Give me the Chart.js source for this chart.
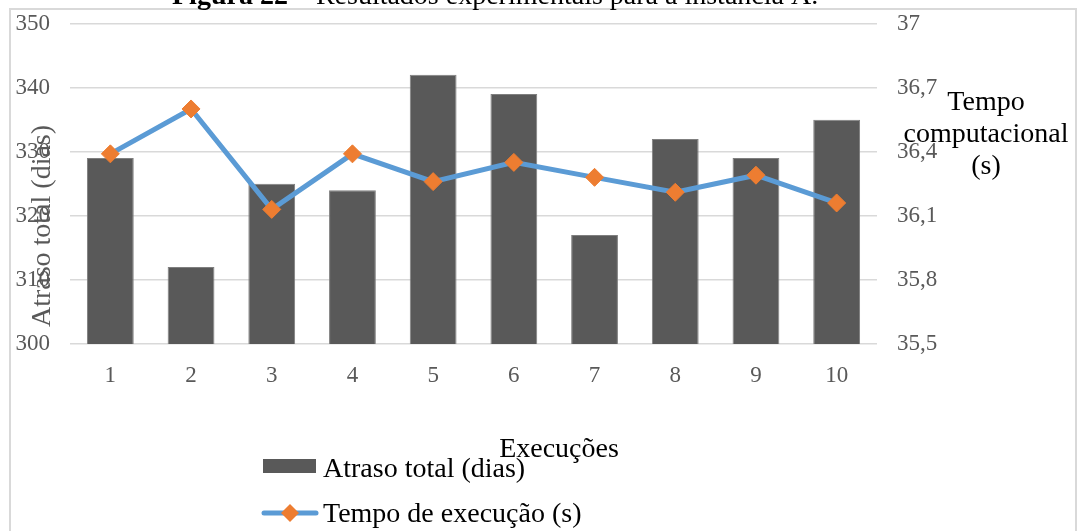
<!DOCTYPE html>
<html>
<head>
<meta charset="utf-8">
<title>Resultados experimentais</title>
<script src="https://cdn.jsdelivr.net/npm/chart.js@4/dist/chart.umd.min.js"></script>
<style>
    html, body { margin: 0; padding: 0; background: #fff; }
    #box { width: 1078px; height: 531px; position: relative; }
</style>
</head>
<body>
<div id="box"><canvas id="graphCanvas" width="1078" height="531"></canvas></div>
<script>
var execucoes = ['1', '2', '3', '4', '5', '6', '7', '8', '9', '10'];
var atrasoTotal = [329, 312, 325, 324, 342, 339, 317, 332, 329, 335];
var tempoExecucao = [36.39, 36.60, 36.13, 36.39, 36.26, 36.35, 36.28, 36.21, 36.29, 36.16];

var serif = '"Liberation Serif", "Times New Roman", serif';
var tickGray = '#595959';

// border, title, axis titles and the legend are drawn by hand
var decor = {
    id: 'decor',
    beforeDraw: function (chart) {
        var ctx = chart.ctx;
        ctx.save();
        ctx.strokeStyle = '#d9d9d9';
        ctx.lineWidth = 2;
        ctx.strokeRect(10, 9, 1066, 540);
        ctx.restore();
    },
    afterDraw: function (chart) {
        var ctx = chart.ctx;
        var bar = chart.data.datasets[0];
        var line = chart.data.datasets[1];
        ctx.save();

        // figure title (partly cut at the top)
        var bold = 'Figura 22';
        var rest = ' \u2013 Resultados experimentais para a inst\u00e2ncia A.';
        ctx.fillStyle = '#000';
        ctx.textBaseline = 'alphabetic';
        ctx.textAlign = 'left';
        ctx.font = 'bold 28px ' + serif;
        ctx.fillText(bold, 172, 4);
        var w = ctx.measureText(bold).width;
        ctx.font = '28px ' + serif;
        ctx.fillText(rest, 172 + w, 4);

        // left axis title
        ctx.save();
        ctx.translate(50, 226);
        ctx.rotate(-Math.PI / 2);
        ctx.textAlign = 'center';
        ctx.fillStyle = tickGray;
        ctx.font = '28px ' + serif;
        ctx.fillText('Atraso total (dias)', 0, 0);
        ctx.restore();

        // right axis title
        ctx.textAlign = 'center';
        ctx.fillStyle = '#000';
        ctx.font = '28px ' + serif;
        ctx.fillText('Tempo', 986, 110);
        ctx.fillText('computacional', 986, 142);
        ctx.fillText('(s)', 986, 174);

        // x axis title
        ctx.fillText('Execu\u00e7\u00f5es', 559, 457);

        // legend
        ctx.textAlign = 'left';
        ctx.fillStyle = bar.backgroundColor;
        ctx.fillRect(263, 459, 53, 14);
        ctx.fillStyle = '#000';
        ctx.fillText(bar.label, 323, 477);

        ctx.strokeStyle = line.borderColor;
        ctx.lineWidth = line.borderWidth;
        ctx.lineCap = 'round';
        ctx.beginPath();
        ctx.moveTo(264, 513);
        ctx.lineTo(316, 513);
        ctx.stroke();
        ctx.fillStyle = line.pointBackgroundColor;
        ctx.beginPath();
        ctx.moveTo(281, 513);
        ctx.lineTo(290, 504);
        ctx.lineTo(299, 513);
        ctx.lineTo(290, 522);
        ctx.closePath();
        ctx.fill();
        ctx.fillStyle = '#000';
        ctx.fillText(line.label, 323, 522);

        ctx.restore();
    }
};

var chartdata = {
    labels: execucoes,
    datasets: [
        {
            type: 'bar',
            label: 'Atraso total (dias)',
            data: atrasoTotal,
            backgroundColor: '#595959',
            borderColor: '#7f7f7f',
            borderWidth: 1,
            barPercentage: 0.58,
            categoryPercentage: 1,
            yAxisID: 'y',
            order: 1
        },
        {
            type: 'line',
            label: 'Tempo de execu\u00e7\u00e3o (s)',
            data: tempoExecucao,
            borderColor: '#5B9BD5',
            borderWidth: 5,
            tension: 0,
            pointStyle: 'rectRot',
            pointRadius: 9,
            pointBackgroundColor: '#ED7D31',
            pointBorderColor: '#ED7D31',
            pointBorderWidth: 1,
            yAxisID: 'y1',
            order: 0
        }
    ]
};

var graphTarget = document.getElementById('graphCanvas');

var comboGraph = new Chart(graphTarget, {
    type: 'bar',
    data: chartdata,
    plugins: [decor],
    options: {
        responsive: false,
        animation: false,
        layout: { padding: { top: 23.5, left: 0, right: 0, bottom: 0 } },
        plugins: {
            legend: { display: false },
            tooltip: { enabled: false }
        },
        scales: {
            x: {
                grid: { display: false },
                border: { display: false },
                ticks: {
                    color: tickGray,
                    font: { family: serif, size: 23 },
                    padding: 10
                },
                afterFit: function (scale) { scale.height = 187; }
            },
            y: {
                position: 'left',
                min: 300,
                max: 350,
                ticks: {
                    stepSize: 10,
                    color: tickGray,
                    font: { family: serif, size: 23 },
                    padding: 0
                },
                // invisible tick marks keep the labels 20px off the plot
                grid: { color: '#d9d9d9', lineWidth: 1.5, tickLength: 20, tickColor: 'rgba(0,0,0,0)' },
                border: { display: false },
                afterFit: function (scale) { scale.width = 70; }
            },
            y1: {
                position: 'right',
                min: 35.5,
                max: 37,
                ticks: {
                    stepSize: 0.3,
                    color: tickGray,
                    font: { family: serif, size: 23 },
                    padding: 0,
                    callback: function (v) {
                        return String(Number(v.toFixed(1))).replace('.', ',');
                    }
                },
                grid: { drawOnChartArea: false, tickLength: 20, tickColor: 'rgba(0,0,0,0)' },
                border: { display: false },
                afterFit: function (scale) { scale.width = 201; }
            }
        }
    }
});
</script>
</body>
</html>
